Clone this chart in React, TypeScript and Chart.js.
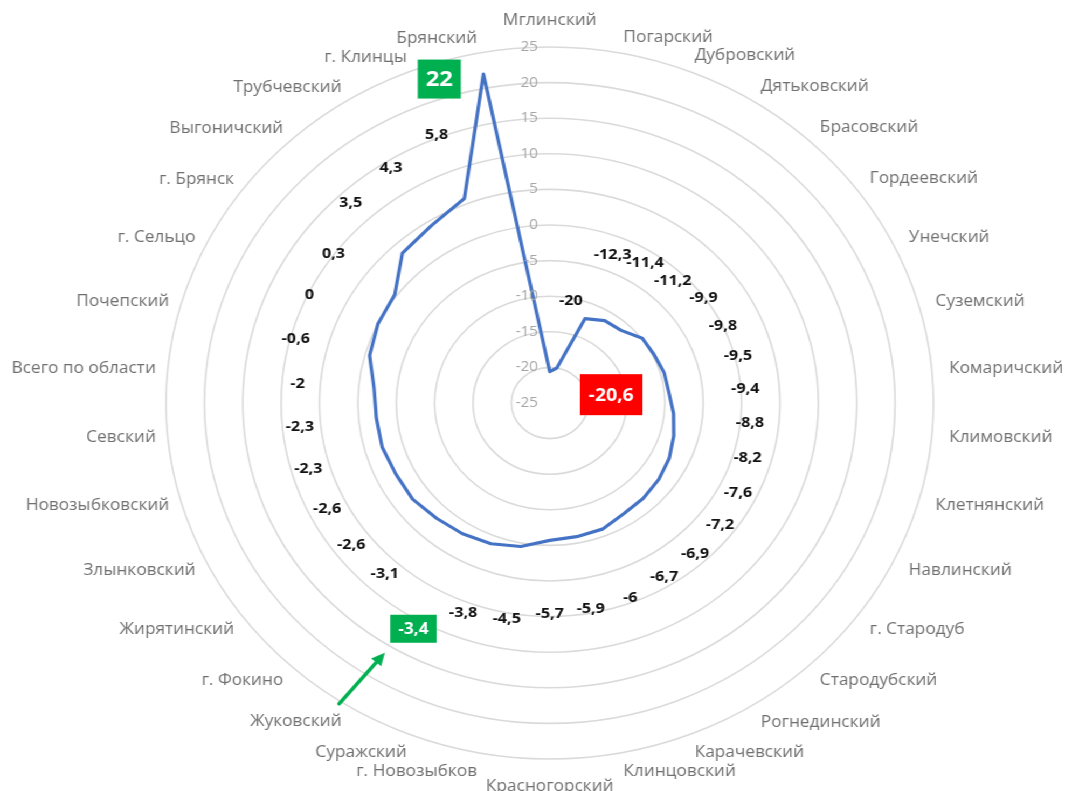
import React, { useEffect, useRef } from "react";
import { Chart, registerables } from "chart.js";

Chart.register(...registerables);

// ---- data ----
const categories: string[] = [
  "Мглинский", "Погарский", "Дубровский", "Дятьковский", "Брасовский",
  "Гордеевский", "Унечский", "Суземский", "Комаричский", "Климовский",
  "Клетнянский", "Навлинский", "г. Стародуб", "Стародубский", "Рогнединский",
  "Карачевский", "Клинцовский", "Красногорский", "г. Новозыбков", "Суражский",
  "Жуковский", "г. Фокино", "Жирятинский", "Злынковский", "Новозыбковский",
  "Севский", "Всего по области", "Почепский", "г. Сельцо", "г. Брянск",
  "Выгоничский", "Трубчевский", "г. Клинцы", "Брянский",
];

const values: number[] = [
  -20.6, -20, -12.3, -11.4, -11.2, -9.9, -9.8, -9.5, -9.4, -8.8,
  -8.2, -7.6, -7.2, -6.9, -6.7, -6, -5.9, -5.7, -4.5, -3.8,
  -3.4, -3.1, -2.6, -2.6, -2.3, -2.3, -2, -0.6, 0, 0.3,
  3.5, 4.3, 5.8, 22,
];

const axisMin = -25;
const axisMax = 25;
const axisStep = 5;

// highlighted values (index into categories)
const highlightIndex: number[] = [0, 20, 33];
const arrowTargetIndex = 20;

// ---- styles ----
const STRETCH = 1065 / 988;
const FONT = '"Open Sans", "DejaVu Sans", sans-serif';
const LABEL_SHIFT = 10; // value units between a point and its label
const highlightStyle: Record<number, { color: string; dx: number; dy: number; w: number; h: number; size: number }> = {
  0: { color: "#FF0000", dx: 57, dy: 23, w: 58, h: 41, size: 18 },
  20: { color: "#00B050", dx: -45.5, dy: 95, w: 43, h: 28, size: 16 },
  33: { color: "#00B050", dx: -41, dy: 5, w: 40, h: 39, size: 22 },
};

const fmt = (v: number) => String(v).replace(".", ",");

const overlay = {
  id: "overlay",
  afterDraw(chart: any) {
    const ctx: CanvasRenderingContext2D = chart.ctx;
    const r: any = chart.scales.r;
    const n = categories.length;
    ctx.save();

    // tick labels (left of the vertical axis)
    ctx.font = `14px ${FONT}`;
    ctx.fillStyle = "#a6a6a6";
    ctx.textAlign = "right";
    ctx.textBaseline = "middle";
    r.ticks.forEach((t: any) => {
      const p = r.getPointPositionForValue(0, t.value);
      ctx.fillText(fmt(t.value), r.xCenter - 11, p.y);
    });

    // category labels
    const lh = 16;
    ctx.font = `${lh}px ${FONT}`;
    ctx.fillStyle = "#707070";
    categories.forEach((c, i) => {
      const rad = (i * 2 * Math.PI) / n;
      const s = Math.sin(rad);
      const co = Math.cos(rad);
      const vertical = Math.abs(s) < 0.01;
      const pad = vertical ? 19 : s > 0 ? 16 : 11;
      const p = r.getPointPosition(i, r.drawingArea + pad);
      let k = 1;
      if (!vertical) {
        if (s > 0) k = co > 0 ? 0.05 : 0.4;
        else k = co > 0 ? 0.5 : 1;
      }
      ctx.textAlign = vertical ? "center" : s > 0 ? "left" : "right";
      ctx.textBaseline = "middle";
      ctx.fillText(c, p.x, p.y - (k * co * lh) / 2);
    });

    // value labels
    ctx.textAlign = "center";
    ctx.textBaseline = "middle";
    ctx.font = `bold 15px ${FONT}`;
    ctx.fillStyle = "#111111";
    values.forEach((v, i) => {
      if (highlightIndex.includes(i)) return;
      const p = r.getPointPositionForValue(i, v + LABEL_SHIFT);
      ctx.fillText(fmt(v), p.x, p.y + 2.5);
    });

    // highlighted boxes
    const boxCenters: Record<number, { x: number; y: number }> = {};
    highlightIndex.forEach((i) => {
      const st = highlightStyle[i];
      const p = r.getPointPositionForValue(i, values[i]);
      const cx = p.x + st.dx;
      const cy = p.y + st.dy;
      boxCenters[i] = { x: cx, y: cy };
      ctx.fillStyle = st.color;
      ctx.fillRect(cx - st.w / 2, cy - st.h / 2, st.w, st.h);
      ctx.fillStyle = "#ffffff";
      ctx.font = `bold ${st.size}px ${FONT}`;
      ctx.fillText(fmt(values[i]), cx, cy + 1);
    });

    // green arrow pointing at the highlighted box
    const b = boxCenters[arrowTargetIndex];
    if (b) {
      const tipX = b.x - 26.5;
      const tipY = b.y + 24;
      const tailX = b.x - 69;
      const tailY = b.y + 75;
      const ang = Math.atan2(tipY - tailY, tipX - tailX);
      const head = 14;
      ctx.strokeStyle = "#00B050";
      ctx.fillStyle = "#00B050";
      ctx.lineWidth = 3.5;
      ctx.lineCap = "round";
      ctx.beginPath();
      ctx.moveTo(tailX, tailY);
      ctx.lineTo(tipX - Math.cos(ang) * head * 0.7, tipY - Math.sin(ang) * head * 0.7);
      ctx.stroke();
      ctx.beginPath();
      ctx.moveTo(tipX, tipY);
      ctx.lineTo(tipX - Math.cos(ang - 0.45) * head, tipY - Math.sin(ang - 0.45) * head);
      ctx.lineTo(tipX - Math.cos(ang + 0.45) * head, tipY - Math.sin(ang + 0.45) * head);
      ctx.closePath();
      ctx.fill();
    }
    ctx.restore();
  },
};

export default function App() {
  const canvasRef = useRef<HTMLCanvasElement | null>(null);

  useEffect(() => {
    if (!canvasRef.current) return;
    const chart = new Chart(canvasRef.current, {
      type: "radar",
      data: {
        labels: categories,
        datasets: [
          {
            data: values,
            borderColor: "#4472C4",
            backgroundColor: "rgba(0,0,0,0)",
            borderWidth: 3.2,
            pointRadius: 0,
            pointHoverRadius: 0,
            fill: false,
            tension: 0,
            borderJoinStyle: "round",
          } as any,
        ],
      },
      options: {
        animation: false,
        responsive: true,
        maintainAspectRatio: false,
        layout: { padding: { left: 154, right: 122, top: 47, bottom: 32 } },
        plugins: { legend: { display: false }, tooltip: { enabled: false } },
        scales: {
          r: {
            min: axisMin,
            max: axisMax,
            ticks: { display: false, stepSize: axisStep },
            grid: { circular: true, color: "#dadada", lineWidth: 1.6 },
            angleLines: { display: false },
            pointLabels: { display: false },
          },
        },
      } as any,
      plugins: [overlay],
    });
    return () => chart.destroy();
  }, []);

  return (
    <div
      style={{
        position: "fixed",
        left: 0,
        top: 0,
        width: 988,
        height: 791,
        background: "#ffffff",
        transform: `scaleX(${STRETCH})`,
        transformOrigin: "0 0",
      }}
    >
      <canvas ref={canvasRef} />
    </div>
  );
}
